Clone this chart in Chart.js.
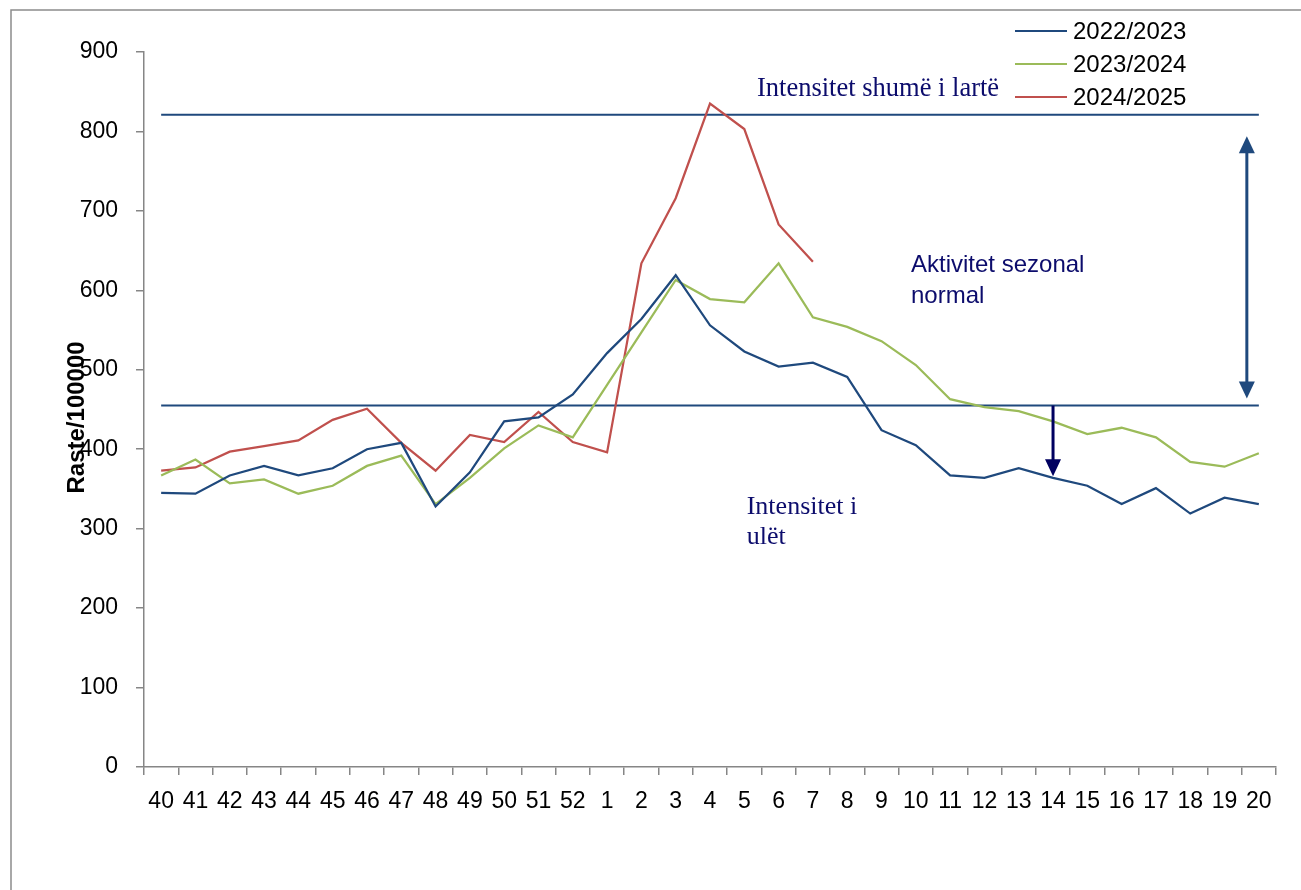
<!DOCTYPE html>
<html>
<head>
<meta charset="utf-8">
<script src="https://cdn.jsdelivr.net/npm/chart.js@4.4.1/dist/chart.umd.min.js"></script>
<style>
  body { margin: 0; background: #fff; }
  canvas { display: block; }
</style>
</head>
<body>
<canvas id="fluChart" width="1301" height="890"></canvas>
<script>
    // weeks of the season, 40 -> 52 then 1 -> 20
    const weeks = ['40', '41', '42', '43', '44', '45', '46', '47', '48', '49', '50', '51', '52',
      '1', '2', '3', '4', '5', '6', '7', '8', '9', '10', '11', '12', '13', '14', '15', '16', '17', '18', '19', '20'];

    const season2223 = [345, 344, 367, 379, 367, 376, 400, 408, 328, 371, 435, 440, 469,
      521, 564, 619, 556, 523, 504, 509, 491, 424, 405, 367, 364, 376, 364, 354, 331, 351, 319, 339, 331];
    const season2324 = [367, 387, 357, 362, 344, 354, 379, 392, 331, 364, 401, 430, 415,
      481, 547, 613, 589, 585, 634, 566, 554, 536, 506, 463, 453, 448, 435, 419, 427, 415, 384, 378, 395];
    const season2425 = [373, 377, 397, 404, 411, 437, 451, 408, 373, 418, 409, 447, 409,
      396, 634, 716, 835, 803, 683, 636, null, null, null, null, null, null, null, null, null, null, null, null, null];

    const seasonNames = ['2022/2023', '2023/2024', '2024/2025'];

    // intensity thresholds (cases / 100000)
    const highThreshold = 821;
    const lowThreshold = 455;

    const yTicks = { min: 0, max: 900, step: 100 };

    const navy = '#0C0C6C';
    const axisGrey = '#868686';

    function arrowHead(c, xTip, yTip, dir) {
      // dir: -1 points up, 1 points down
      c.beginPath();
      c.moveTo(xTip, yTip);
      c.lineTo(xTip - 8, yTip - dir * 17);
      c.lineTo(xTip + 8, yTip - dir * 17);
      c.closePath();
      c.fill();
    }

    const notes = {
      id: 'notes',
      beforeDraw(chart) {
        const c = chart.ctx;
        c.save();
        c.fillStyle = '#fff';
        c.fillRect(0, 0, chart.width, chart.height);
        c.strokeStyle = '#8c8c8c';
        c.lineWidth = 1.5;
        c.strokeRect(11, 10, chart.width + 20, chart.height + 20);
        c.restore();
      },
      afterDatasetsDraw(chart) {
        const c = chart.ctx;
        const x = chart.scales.x, y = chart.scales.y;
        const step = x.getPixelForValue(1) - x.getPixelForValue(0);
        const px = i => x.getPixelForValue(0) + i * step;

        c.save();
        // double arrow: normal seasonal band
        c.strokeStyle = '#1F497D';
        c.fillStyle = '#1F497D';
        c.lineWidth = 3;
        const xa = px(31.65);
        const top = y.getPixelForValue(794), bot = y.getPixelForValue(464);
        c.beginPath();
        c.moveTo(xa, top + 14);
        c.lineTo(xa, bot - 14);
        c.stroke();
        arrowHead(c, xa, top, -1);
        arrowHead(c, xa, bot, 1);

        // down arrow: low intensity
        c.strokeStyle = '#000060';
        c.fillStyle = '#000060';
        const xb = px(26);
        const tip = y.getPixelForValue(366);
        c.beginPath();
        c.moveTo(xb, y.getPixelForValue(lowThreshold));
        c.lineTo(xb, tip - 14);
        c.stroke();
        arrowHead(c, xb, tip, 1);

        // labels
        c.fillStyle = navy;
        c.textAlign = 'left';
        c.textBaseline = 'alphabetic';
        c.font = "26.5px 'Liberation Serif'";
        c.fillText('Intensitet shumë i lartë', px(17.37), y.getPixelForValue(845));
        c.font = "26px 'Liberation Serif'";
        c.fillText('Intensitet i', px(17.07), y.getPixelForValue(319));
        c.fillText('ulët', px(17.07), y.getPixelForValue(281));
        c.font = "24px 'Liberation Sans'";
        c.fillText('Aktivitet sezonal', px(21.86), y.getPixelForValue(623));
        c.fillText('normal', px(21.86), y.getPixelForValue(584));
        c.restore();
      },
      afterDraw(chart) {
        const c = chart.ctx;
        c.save();
        // y axis title
        c.translate(77, chart.scales.y.getPixelForValue(440));
        c.rotate(-Math.PI / 2);
        c.fillStyle = '#000';
        c.font = "bold 24px 'Liberation Sans'";
        c.textAlign = 'center';
        c.textBaseline = 'middle';
        c.fillText('Raste/100000', 0, 0);
        c.restore();

        // legend, top right
        c.save();
        c.font = "24px 'Liberation Sans'";
        c.textBaseline = 'middle';
        c.textAlign = 'left';
        chart.data.datasets.slice(0, 3).forEach((ds, i) => {
          const ly = 31 + i * 33;
          c.strokeStyle = ds.borderColor;
          c.lineWidth = 2;
          c.beginPath();
          c.moveTo(1015, ly);
          c.lineTo(1067, ly);
          c.stroke();
          c.fillStyle = '#000';
          c.fillText(ds.label, 1073, ly + 1);
        });
        c.restore();
      }
    };

    const lineStyle = { borderWidth: 2.25, pointRadius: 0, tension: 0, fill: false };

    new Chart(document.getElementById('fluChart'), {
      type: 'line',
      data: {
        labels: weeks,
        datasets: [
          { label: seasonNames[0], data: season2223, borderColor: '#1F497D', ...lineStyle },
          { label: seasonNames[1], data: season2324, borderColor: '#9BBB59', ...lineStyle },
          { label: seasonNames[2], data: season2425, borderColor: '#C0504D', ...lineStyle },
          { label: 'high', data: weeks.map(() => highThreshold), borderColor: '#1F497D', borderWidth: 2, pointRadius: 0 },
          { label: 'low', data: weeks.map(() => lowThreshold), borderColor: '#1F497D', borderWidth: 2, pointRadius: 0 }
        ]
      },
      options: {
        responsive: false,
        animation: false,
        layout: { padding: { top: 52, right: 25, left: 0, bottom: 0 } },
        plugins: {
          legend: { display: false },
          tooltip: { enabled: false }
        },
        scales: {
          x: {
            offset: true,
            grid: { offset: true, drawOnChartArea: false, tickLength: 8, color: axisGrey, lineWidth: 1.5 },
            border: { color: axisGrey, width: 1.5 },
            ticks: { color: '#000', font: { family: 'Liberation Sans', size: 23 }, padding: 13, maxRotation: 0, autoSkip: false },
            afterFit: s => { s.height = 123; }
          },
          y: {
            min: yTicks.min,
            max: yTicks.max,
            grid: { drawOnChartArea: false, tickLength: 8, color: axisGrey, lineWidth: 1.5 },
            border: { color: axisGrey, width: 1.5 },
            ticks: { stepSize: yTicks.step, color: '#000', font: { family: 'Liberation Sans', size: 23 }, padding: 18 },
            afterFit: s => { s.width = 144; }
          }
        }
      },
      plugins: [notes]
    });
</script>
</body>
</html>
